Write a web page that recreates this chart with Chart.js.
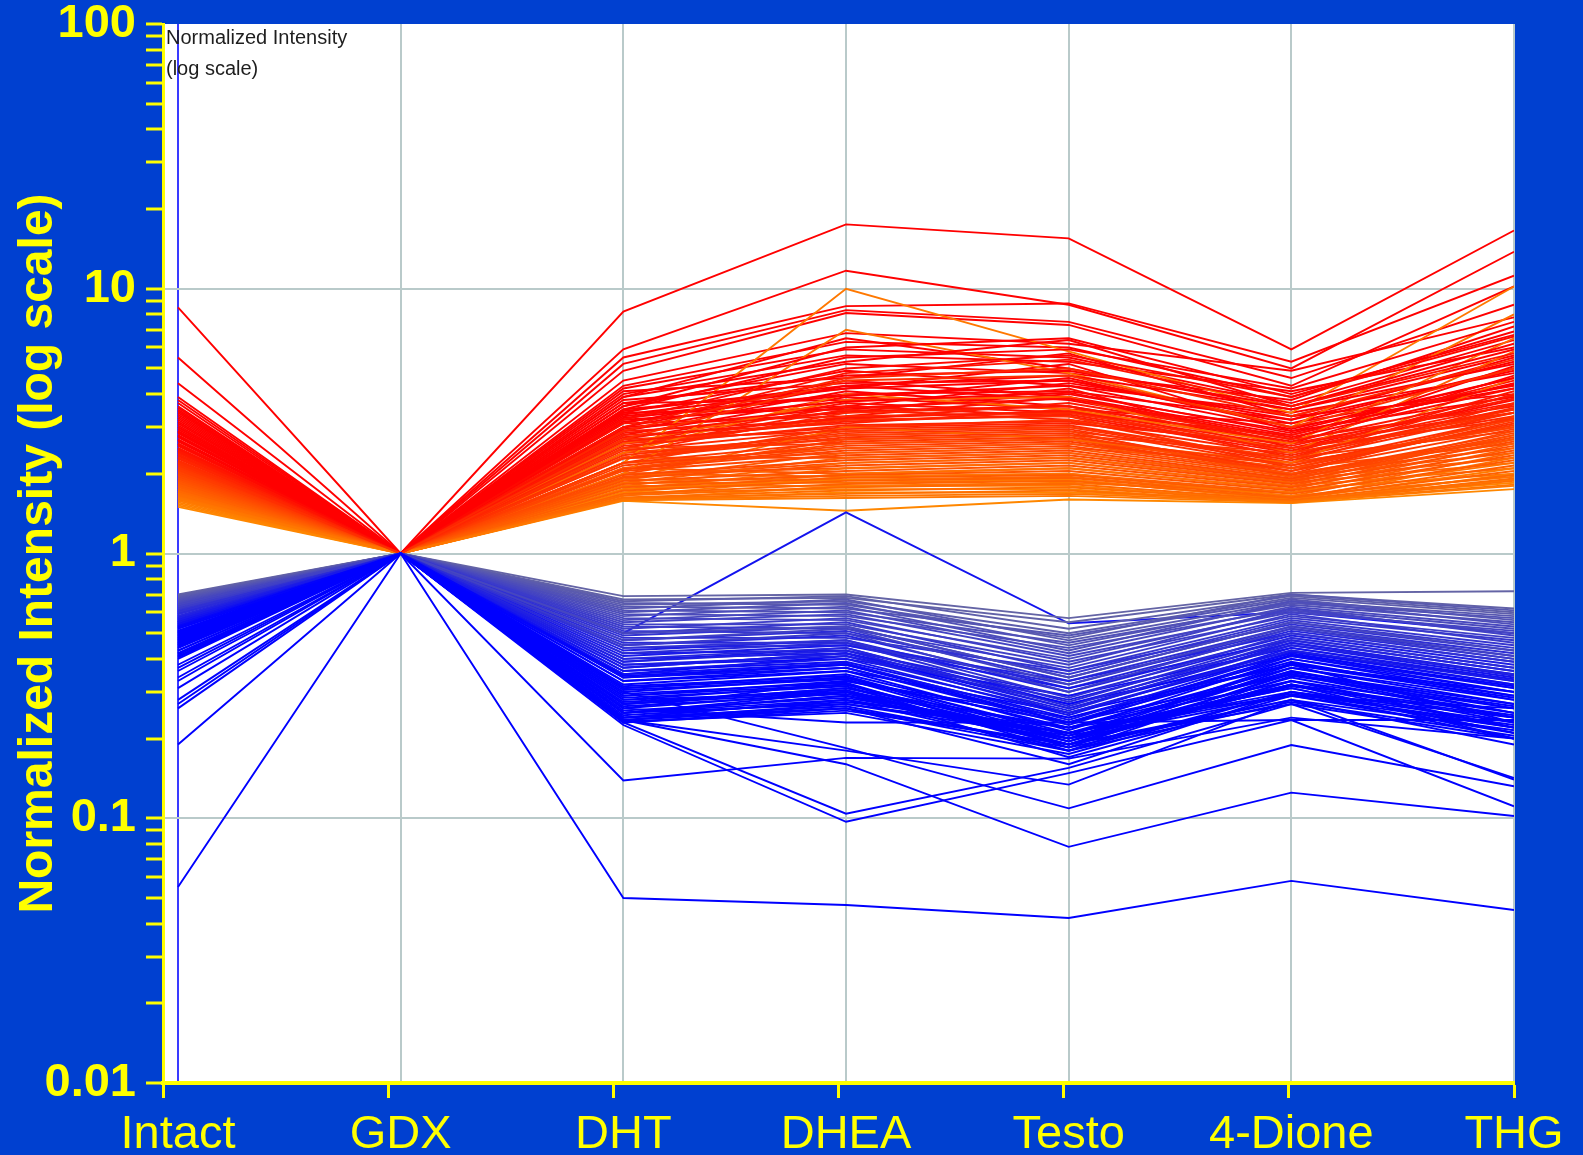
<!DOCTYPE html>
<html>
<head>
<meta charset="utf-8">
<script src="https://cdn.jsdelivr.net/npm/chart.js@4/dist/chart.umd.min.js"></script>
<style>
html,body{margin:0;padding:0;background:#0040d0;}
canvas{display:block;}
</style>
</head>
<body>
<canvas id="c" width="1583" height="1155"></canvas>
<script>
// ---- categories / axis text ----
const categories = ['Intact','GDX','DHT','DHEA','Testo','4-Dione','THG'];
const yTickValues = [0.01,0.02,0.03,0.04,0.05,0.06,0.07,0.08,0.09,
  0.1,0.2,0.3,0.4,0.5,0.6,0.7,0.8,0.9,
  1,2,3,4,5,6,7,8,9,
  10,20,30,40,50,60,70,80,90,100];
const yMajorValues = [0.01,0.1,1,10,100];
const yTickLabels = ['0.01','0.1','1','10','100'];
const yTitle = 'Normalized Intensity (log scale)';
const cornerTitle = ['Normalized Intensity','(log scale)'];

// ---- up-regulated genes (value per condition; GDX is the normalizer = 1) ----
const upIntact = [8.5,5.5,4.4,3.9,3.8,3.7,3.6,3.5,3.45,3.4, 3.35,3.3,3.2,3.15,3.1,3.0,2.95,2.9,2.85,2.8, 2.75,2.7,2.65,2.6,2.55,2.5,2.45,2.42,2.4,2.37, 2.34,2.31,2.28,2.25,2.22,2.2,2.17,2.14,2.12,2.1, 2.07,2.05,2.02,2.0,1.98,1.95,1.93,1.9,1.88,1.85, 1.83,1.8,1.78,1.75,1.73,1.7,1.68,1.66,1.64,1.62, 1.6,1.65,1.58,1.56,1.54,1.52,1.5,1.7,1.8,1.75,
  3.55,3.25,3.05,2.88,2.78,2.68,2.58,2.48,2.44,2.36, 2.3,2.24,2.19,2.16,2.11,2.08,2.03,1.99,1.96,1.92, 1.89,1.86,1.82,1.79,1.76,1.72,1.69,1.67,1.63,1.61, 3.0,2.9,2.6,2.5,2.3,2.2];
const upDHT    = [8.2,5.9,5.5,5.2,4.9,4.5,4.3,4.2,4.0,3.9, 4.1,3.6,3.8,3.4,3.5,3.3,3.1,3.7,3.0,3.2, 2.9,3.4,2.8,3.0,2.7,3.1,2.6,2.9,2.5,2.8, 2.6,2.4,2.7,2.5,2.3,2.6,2.4,2.2,2.5,2.3, 2.1,2.4,2.2,2.0,2.3,2.1,1.95,2.2,2.0,1.9, 2.1,1.85,2.0,1.8,1.9,1.75,1.85,1.7,1.8,1.65, 2.2,2.0,1.75,1.6,1.7,1.6,1.58,2.4,2.6,1.9,
  3.9,3.7,3.45,3.35,3.25,3.15,2.95,2.85,2.75,2.65, 2.55,2.45,2.35,2.28,2.2,2.15,2.08,2.05,1.98,1.93, 1.88,1.83,1.78,1.73,1.68,1.66,1.63,1.62,1.6,1.59, 3.6,3.5,3.2,3.0,2.9,2.7];
const upDHEA   = [17.5,11.7,8.6,8.3,8.1,6.8,6.3,5.9,5.6,6.5, 4.6,5.2,4.4,4.9,4.2,4.0,4.5,3.8,4.3,3.6, 4.1,3.5,3.9,3.4,3.7,3.3,3.6,3.2,3.5,3.1, 3.0,3.4,2.9,3.3,2.8,3.2,2.7,3.0,2.6,2.9, 2.5,2.8,2.4,2.7,2.3,2.6,2.2,2.5,2.1,2.4, 2.0,2.3,1.95,2.2,1.9,2.1,1.85,2.0,1.8,1.95, 10.0,7.0,1.9,1.8,1.75,1.7,1.45,4.0,3.8,3.0,
  5.3,4.7,4.3,4.2,3.95,3.75,3.55,3.45,3.25,3.15, 3.05,2.95,2.85,2.75,2.65,2.55,2.45,2.35,2.25,2.15, 2.05,1.98,1.93,1.88,1.83,1.78,1.73,1.68,1.65,1.62, 6.0,5.5,5.0,4.8,4.6,4.5];
const upTesto  = [15.5,8.7,8.8,7.5,7.3,6.2,6.0,5.5,5.3,5.0, 5.7,4.8,4.5,4.3,5.2,4.1,3.9,4.6,3.8,4.4, 3.6,4.0,3.5,4.2,3.4,3.9,3.3,3.7,3.2,3.5, 3.1,3.6,3.0,3.4,2.9,3.3,2.8,3.2,2.7,3.0, 2.6,2.9,2.5,2.8,2.4,2.7,2.3,2.6,2.2,2.5, 2.1,2.4,2.0,2.3,1.95,2.2,1.9,2.1,1.85,2.0, 5.8,4.8,1.9,1.8,1.75,1.7,1.6,3.5,3.9,2.7,
  6.4,4.9,4.7,4.5,4.3,4.05,3.85,3.6,3.45,3.35, 3.15,3.05,2.95,2.85,2.75,2.65,2.55,2.45,2.35,2.25, 2.15,2.05,1.98,1.93,1.88,1.83,1.78,1.73,1.68,1.65, 6.5,5.9,5.6,5.4,5.0,4.7];
const upDione  = [5.9,5.0,5.3,4.6,4.3,4.9,3.9,3.7,4.1,3.5, 3.3,3.8,3.1,3.4,2.9,3.2,2.8,3.0,2.7,3.3, 2.6,2.9,3.1,2.5,2.8,2.6,2.4,2.7,2.5,2.3, 2.6,2.4,2.2,2.5,2.3,2.1,2.4,2.2,2.0,2.3, 2.1,1.95,2.2,2.0,1.9,2.1,1.85,2.0,1.8,1.95, 1.75,1.9,1.7,1.85,1.65,1.8,1.6,1.75,1.7,1.65, 3.4,3.0,1.6,1.58,1.55,1.6,1.55,2.6,2.4,2.2,
  3.6,3.6,3.5,3.2,2.95,2.85,2.75,2.65,2.55,2.45, 2.35,2.25,2.15,2.05,2.15,2.05,1.98,1.92,1.88,1.83, 1.78,1.73,1.68,1.63,1.62,1.59,1.57,1.56,1.57,1.56, 4.0,4.2,3.9,3.6,3.3,3.0];
const upTHG    = [16.6,13.8,11.2,8.7,10.2,7.8,6.9,6.4,6.0,5.6, 5.3,7.2,5.0,4.8,4.6,5.5,4.4,4.2,5.1,4.0, 4.7,3.9,4.3,3.8,4.5,3.7,4.1,3.6,3.5,4.0, 3.4,3.3,3.7,3.2,3.5,3.1,3.4,3.0,3.3,2.9, 3.2,2.8,3.0,2.7,2.9,2.6,2.8,2.5,2.7,2.4, 2.6,2.3,2.5,2.2,2.4,2.1,2.3,2.0,2.2,1.95, 10.2,8.0,2.1,1.9,2.0,1.85,1.75,6.5,5.8,4.6,
  5.9,6.2,5.2,4.9,4.6,4.35,4.2,3.95,3.85,3.65, 3.55,3.4,3.25,3.15,3.05,2.95,2.85,2.75,2.65,2.55, 2.45,2.35,2.25,2.15,2.05,1.98,1.92,1.88,1.82,1.8, 6.7,7.5,6.6,5.7,5.4,5.0];

// ---- down-regulated genes ----
const downIntact = [0.055,0.19,0.26,0.28,0.27,0.31,0.55,0.33,0.34,0.36,0.38,0.37,
  0.70,0.695,0.69,0.685,0.68,0.675,0.67,0.665,0.66,0.655, 0.65,0.645,0.64,0.635,0.63,0.625,0.62,0.615,0.61,0.605, 0.60,0.595,0.59,0.58,0.575,0.57,0.565,0.56,0.555,0.55, 0.545,0.54,0.535,0.53,0.525,0.52,0.51,0.505,0.50,0.495, 0.49,0.48,0.475,0.47,0.46,0.455,0.45,0.44,0.43,0.42, 0.41,0.40,
  0.62,0.60,0.58,0.565,0.55,0.54,0.53,0.52,0.51,0.50, 0.49,0.48,0.47,0.46,0.45,0.44,0.43,0.42,0.415,0.405, 0.64,0.63,0.59,0.57,0.56,0.525,0.505,0.485,0.465,0.445];
const downDHT = [0.050,0.235,0.23,0.225,0.30,0.139,0.50,0.235,0.24,0.25,0.26,0.28,
  0.69,0.67,0.66,0.64,0.65,0.62,0.63,0.60,0.61,0.58, 0.59,0.56,0.57,0.55,0.54,0.52,0.53,0.50,0.51,0.49, 0.48,0.47,0.46,0.45,0.44,0.43,0.42,0.41,0.40,0.39, 0.38,0.37,0.36,0.35,0.34,0.33,0.32,0.31,0.30,0.29, 0.28,0.27,0.26,0.25,0.24,0.235,0.23,0.232,0.24,0.25, 0.26,0.27,
  0.45,0.44,0.40,0.38,0.36,0.35,0.34,0.33,0.315,0.305, 0.295,0.285,0.275,0.265,0.255,0.245,0.24,0.235,0.23,0.25, 0.50,0.47,0.42,0.39,0.37,0.345,0.31,0.29,0.27,0.25];
const downDHEA = [0.047,0.16,0.104,0.097,0.184,0.169,1.43,0.18,0.26,0.29,0.23,0.30,
  0.70,0.68,0.69,0.66,0.64,0.67,0.62,0.65,0.60,0.63, 0.58,0.61,0.56,0.59,0.54,0.57,0.52,0.55,0.50,0.53, 0.48,0.51,0.46,0.49,0.45,0.47,0.43,0.45,0.42,0.44, 0.40,0.42,0.39,0.41,0.38,0.37,0.36,0.35,0.34,0.33, 0.32,0.31,0.30,0.29,0.28,0.27,0.26,0.25,0.28,0.30, 0.33,0.31,
  0.50,0.47,0.44,0.41,0.40,0.385,0.37,0.36,0.345,0.335, 0.325,0.315,0.305,0.295,0.285,0.275,0.265,0.26,0.255,0.27, 0.53,0.52,0.46,0.43,0.42,0.38,0.34,0.32,0.30,0.28];
const downTesto = [0.042,0.078,0.155,0.148,0.109,0.168,0.545,0.134,0.16,0.19,0.23,0.17,
  0.57,0.55,0.52,0.50,0.48,0.47,0.49,0.45,0.46,0.43, 0.44,0.42,0.40,0.41,0.38,0.39,0.37,0.36,0.35,0.34, 0.36,0.33,0.32,0.31,0.33,0.30,0.29,0.31,0.28,0.27, 0.29,0.26,0.25,0.27,0.24,0.23,0.25,0.22,0.21,0.23, 0.20,0.22,0.19,0.21,0.18,0.20,0.19,0.175,0.21,0.22, 0.24,0.20,
  0.30,0.285,0.265,0.255,0.245,0.235,0.225,0.215,0.205,0.195, 0.185,0.18,0.19,0.2,0.21,0.22,0.185,0.18,0.19,0.21, 0.34,0.32,0.275,0.26,0.25,0.23,0.2,0.19,0.195,0.205];
const downDione = [0.058,0.125,0.27,0.235,0.189,0.24,0.6,0.28,0.30,0.33,0.235,0.29,
  0.71,0.70,0.69,0.68,0.70,0.66,0.67,0.65,0.64,0.66, 0.62,0.63,0.61,0.60,0.62,0.58,0.59,0.57,0.56,0.55, 0.54,0.53,0.52,0.51,0.50,0.49,0.48,0.47,0.46,0.45, 0.44,0.43,0.42,0.41,0.40,0.39,0.38,0.37,0.36,0.35, 0.34,0.33,0.32,0.31,0.30,0.29,0.28,0.30,0.32,0.35, 0.38,0.36,
  0.52,0.50,0.47,0.46,0.44,0.425,0.41,0.40,0.385,0.37, 0.355,0.345,0.33,0.315,0.30,0.29,0.28,0.275,0.27,0.31, 0.55,0.53,0.48,0.45,0.43,0.415,0.38,0.35,0.32,0.295];
const downTHG = [0.045,0.102,0.142,0.111,0.132,0.2,0.5,0.14,0.24,0.22,0.235,0.26,
  0.72,0.62,0.60,0.59,0.61,0.58,0.56,0.57,0.55,0.54, 0.52,0.53,0.50,0.51,0.49,0.48,0.46,0.47,0.45,0.44, 0.43,0.42,0.41,0.40,0.39,0.38,0.37,0.36,0.35,0.34, 0.33,0.32,0.31,0.30,0.29,0.28,0.30,0.27,0.26,0.25, 0.24,0.23,0.22,0.21,0.20,0.21,0.19,0.22,0.20,0.24, 0.23,0.25,
  0.40,0.39,0.36,0.345,0.335,0.32,0.31,0.30,0.29,0.28, 0.27,0.26,0.25,0.24,0.23,0.22,0.215,0.205,0.2,0.21, 0.43,0.41,0.37,0.35,0.33,0.315,0.285,0.265,0.245,0.225];
const gdxValue = 1;

// ---- styling helpers ----
const YELLOW = '#ffff00';
const GRID = '#b9caca';
function lineColor(v) {
  const L = Math.log10;
  if (v >= 1) {
    const t = Math.max(0, Math.min(1, (L(v) - L(1.5)) / (L(2.7) - L(1.5))));
    return `rgb(255,${Math.round(135 * (1 - t))},0)`;
  }
  const t = Math.max(0, Math.min(1, (L(0.70) - L(v)) / (L(0.70) - L(0.52))));
  const r = Math.round(100 * (1 - t)), g = Math.round(100 * (1 - t)), b = Math.round(165 + 90 * t);
  return `rgb(${r},${g},${b})`;
}
function makeSets(cols) {
  const sets = [];
  const n = cols[0].length;
  for (let i = 0; i < n; i++) {
    const vals = [cols[0][i], gdxValue, cols[1][i], cols[2][i], cols[3][i], cols[4][i], cols[5][i]];
    sets.push({
      data: vals.map((y, k) => ({x: k, y})),
      borderColor: lineColor(cols[0][i]),
      borderWidth: 1.9,
      pointRadius: 0,
      fill: false,
      tension: 0,
      xAxisID: 'x', yAxisID: 'y'
    });
  }
  return sets;
}
const datasets = [
  ...makeSets([downIntact, downDHT, downDHEA, downTesto, downDione, downTHG]).reverse(),
  ...makeSets([upIntact, upDHT, upDHEA, upTesto, upDione, upTHG]).reverse()
];

const plotBg = {
  id: 'plotBg',
  beforeDraw(chart) {
    const {ctx, chartArea: a} = chart;
    ctx.save();
    ctx.fillStyle = '#ffffff';
    ctx.fillRect(a.left, a.top, a.right - a.left, a.bottom - a.top);
    ctx.restore();
  },
  afterDraw(chart) {
    const {ctx, chartArea: a} = chart;
    ctx.save();
    ctx.fillStyle = '#1e1e1e';
    ctx.font = '20px "Liberation Sans", Arial, sans-serif';
    ctx.textBaseline = 'alphabetic';
    ctx.fillText(cornerTitle[0], a.left + 3, a.top + 20);
    ctx.fillText(cornerTitle[1], a.left + 3, a.top + 51);
    ctx.restore();
  }
};

const FONT = '"Liberation Sans", Arial, sans-serif';

new Chart(document.getElementById('c'), {
  type: 'line',
  data: { datasets },
  plugins: [plotBg],
  options: {
    responsive: false,
    animation: false,
    events: [],
    layout: { padding: { top: 24, right: 69, bottom: 0, left: 0 } },
    plugins: { legend: { display: false }, tooltip: { enabled: false } },
    scales: {
      x: {
        type: 'linear', position: 'bottom', weight: 1,
        min: -0.0674, max: 6,
        afterBuildTicks: ax => { ax.ticks = categories.map((c, i) => ({ value: i })); },
        afterFit: ax => { ax.height = 56; },
        border: { display: false },
        grid: {
          drawTicks: false, lineWidth: 2,
          color: ctx => (ctx.tick && ctx.tick.value === 0) ? '#3a3aff' : GRID
        },
        ticks: {
          autoSkip: false, maxRotation: 0, color: YELLOW, padding: 8,
          font: { family: FONT, size: 47 },
          callback: v => categories[v] ?? ''
        }
      },
      x2: {
        type: 'category', labels: categories, position: 'bottom', weight: 0, offset: false,
        afterFit: ax => { ax.height = 16; },
        border: { display: true, color: YELLOW, width: 4 },
        grid: { drawOnChartArea: false, drawTicks: true, tickLength: 15, tickWidth: 3, tickColor: YELLOW, color: YELLOW },
        ticks: { display: false }
      },
      y: {
        type: 'logarithmic', position: 'left', min: 0.01, max: 100,
        afterBuildTicks: ax => { ax.ticks = yTickValues.map(v => ({ value: v })); },
        afterFit: ax => { ax.width = 163; ax.paddingTop = 0; ax.paddingBottom = 0; },
        border: { display: true, color: YELLOW, width: 3 },
        grid: {
          lineWidth: 2,
          color: ctx => (ctx.tick && [0.1, 1, 10].includes(ctx.tick.value)) ? GRID : 'rgba(0,0,0,0)',
          drawTicks: true, tickLength: 17, tickWidth: 3, tickColor: YELLOW
        },
        ticks: {
          autoSkip: false, color: YELLOW, padding: 10,
          font: { family: FONT, size: 47, weight: 'bold' },
          callback: v => { const i = yMajorValues.indexOf(v); return i >= 0 ? yTickLabels[i] : ''; }
        },
        title: {
          display: true, text: yTitle, color: YELLOW,
          font: { family: FONT, size: 48, weight: 'bold' },
          padding: { top: 10, bottom: 0 }
        }
      }
    }
  }
});
</script>
</body>
</html>
